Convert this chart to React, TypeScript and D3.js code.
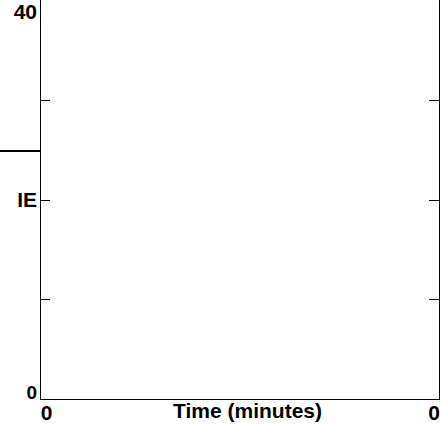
import React from "react";
import * as d3 from "d3";

const yDomain = [0, 40];
const xDomain = [0, 1];
const yTickValues = [10, 20, 30];
const yLabelValues = [40, 20, 0];
const yLabelTexts = ["40", "IE", "0"];
const xLabelValues = [0, 1];
const xLabelTexts = ["0", "0"];
const xAxisTitle = "Time (minutes)";
const markerValues = [25];

const W = 440;
const H = 424;
const left = 40;
const right = 439;
const top = 0;
const bottom = 399;
const font = "'Liberation Sans', Arial, sans-serif";
const labelSizes = [21, 21, 19];

export default function App() {
  const y = d3.scaleLinear().domain(yDomain).range([bottom, top]);
  const x = d3.scaleLinear().domain(xDomain).range([left, right]);
  return (
    <svg
      width={W}
      height={H}
      style={{ position: "absolute", left: 0, top: 0, background: "#fff" }}
      shapeRendering="crispEdges"
    >
      <rect x={0} y={0} width={W} height={H} fill="#fff" />
      <line x1={left + 0.5} x2={left + 0.5} y1={top} y2={bottom + 0.5} stroke="#000" strokeWidth={1} />
      <line x1={left} x2={right + 0.5} y1={bottom + 0.5} y2={bottom + 0.5} stroke="#000" strokeWidth={1} />
      <line x1={right + 0.5} x2={right + 0.5} y1={top} y2={bottom + 0.5} stroke="#000" strokeWidth={1} />
      {yTickValues.map((v) => (
        <g key={v}>
          <line x1={left} x2={left + 10} y1={Math.round(y(v)) + 0.5} y2={Math.round(y(v)) + 0.5} stroke="#000" />
          <line x1={right - 10} x2={right} y1={Math.round(y(v)) + 0.5} y2={Math.round(y(v)) + 0.5} stroke="#000" />
        </g>
      ))}
      {markerValues.map((v) => (
        <line key={v} x1={0} x2={left} y1={Math.round(y(v)) + 1} y2={Math.round(y(v)) + 1} stroke="#000" strokeWidth={2} />
      ))}
      {yLabelValues.map((v, i) => {
        const cy = Math.max(11.5, Math.min(392.5, y(v)));
        return (
          <text
            key={i}
            x={left - 3}
            y={cy}
            dy="0.36em"
            textAnchor="end"
            fontFamily={font}
            fontWeight="bold"
            fontSize={labelSizes[i]}
            fill="#000"
          >
            {yLabelTexts[i]}
          </text>
        );
      })}
      {xLabelValues.map((v, i) => (
        <text
          key={i}
          x={i === 0 ? x(v) + 6.5 : x(v) - 5}
          y={420}
          textAnchor="middle"
          fontFamily={font}
          fontWeight="bold"
          fontSize={21}
          fill="#000"
        >
          {xLabelTexts[i]}
        </text>
      ))}
      <text
        x={(left + right) / 2 + 8}
        y={418}
        textAnchor="middle"
        fontFamily={font}
        fontWeight="bold"
        fontSize={21}
        fill="#000"
      >
        {xAxisTitle}
      </text>
    </svg>
  );
}
